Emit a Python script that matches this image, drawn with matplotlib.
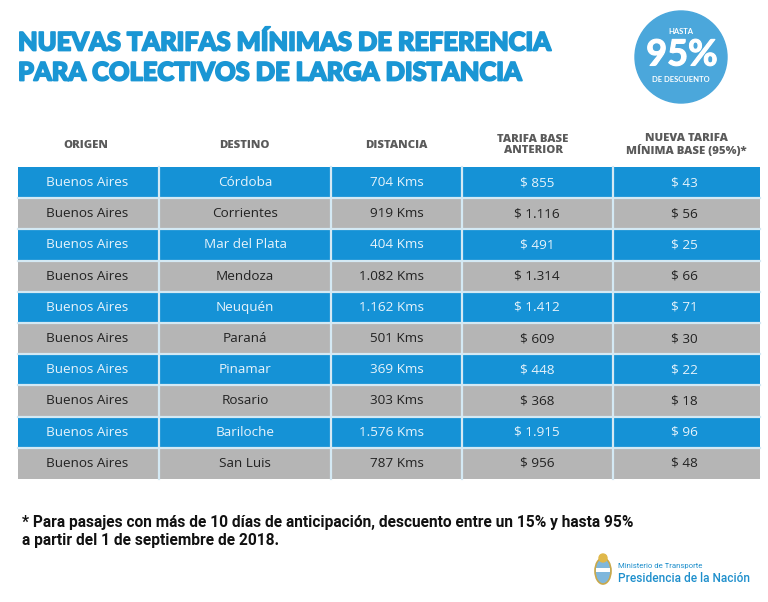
import matplotlib
matplotlib.use("Agg")
import matplotlib.pyplot as plt
import matplotlib.patheffects as pe
from matplotlib.patches import Rectangle, Circle, Ellipse

# ---- data ----
origen = ["Buenos Aires"] * 10
destino = ["Córdoba", "Corrientes", "Mar del Plata", "Mendoza", "Neuquén",
           "Paraná", "Pinamar", "Rosario", "Bariloche", "San Luis"]
distancia_km = [704, 919, 404, 1082, 1162, 501, 369, 303, 1576, 787]
tarifa_anterior = [855, 1116, 491, 1314, 1412, 609, 448, 368, 1915, 956]
tarifa_nueva = [43, 56, 25, 66, 71, 30, 22, 18, 96, 48]
headers = ["ORIGEN", "DESTINO", "DISTANCIA", "TARIFA BASE\nANTERIOR",
           "NUEVA TARIFA\nMÍNIMA BASE (95%)*"]
title_lines = ["NUEVAS TARIFAS MÍNIMAS DE REFERENCIA",
               "PARA COLECTIVOS DE LARGA DISTANCIA"]
footnote = ["* Para pasajes con más de 10 días de anticipación, descuento entre un 15% y hasta 95%",
            "a partir del 1 de septiembre de 2018."]


def miles(v):
    return f"{v:,}".replace(",", ".")


BLUE = "#1592d6"
GRAY = "#b5b5b5"
SEP = "#d4e9f4"
TITLE_C = "#1a96d4"

fig = plt.figure(figsize=(7.68, 6.02), dpi=100)
ax = fig.add_axes([0, 0, 1, 1])
ax.set_xlim(0, 768)
ax.set_ylim(602, 0)
ax.axis("off")

# title
for i, line in enumerate(title_lines):
    ax.text(18, 43 + i * 30, line, fontsize=18.3, fontweight="black",
            family="Lato", color=TITLE_C, va="center", ha="left",
            path_effects=[pe.withStroke(linewidth=1.3, foreground=TITLE_C)])

# badge
ax.add_patch(Circle((681, 57), 46, color="#4ba7db", zorder=1))
ax.text(681, 31, "HASTA", fontsize=5.5, fontweight="bold", family="Lato",
        color="white", ha="center", va="center")
ax.text(682, 55, "95%", fontsize=26, fontweight="bold", family="Lato",
        color="white", ha="center", va="center",
        path_effects=[pe.withStroke(linewidth=0.8, foreground="white")])
ax.text(681, 80, "DE DESCUENTO", fontsize=5.5, fontweight="bold", family="Lato",
        color="white", ha="center", va="center")

# table geometry
col_edges = [18, 159, 331, 462, 613, 760]
top = 167
rh = 31.2
header_x = [86, 244, 396, 533, 686]

for j, h in enumerate(headers):
    ax.text(header_x[j], 145, h, fontsize=8.2, fontweight="heavy", family="Open Sans",
            color="#5a5a5a", ha="center", va="center", linespacing=1.1)

for i in range(len(destino)):
    y0 = top + i * rh
    fill = BLUE if i % 2 == 0 else GRAY
    tc = "#e6f3fb" if i % 2 == 0 else "#222222"
    ax.add_patch(Rectangle((col_edges[0], y0), col_edges[-1] - col_edges[0], rh,
                           facecolor=fill, edgecolor="none", zorder=1))
    yc = y0 + rh / 2
    kw = dict(fontsize=9.7, family="Open Sans", color=tc, va="center", zorder=3)
    ax.text(87, yc, origen[i], ha="center", **kw)
    ax.text(245, yc, destino[i], ha="center", **kw)
    ax.text(424, yc, f"{miles(distancia_km[i])} Kms", ha="right", **kw)
    ax.text(537, yc, f"$ {miles(tarifa_anterior[i])}", ha="center", **kw)
    ax.text(684, yc, f"$ {tarifa_nueva[i]}", ha="center", **kw)

# separators
bottom = top + len(destino) * rh
for x in col_edges[1:-1]:
    ax.plot([x, x], [top, bottom], color=SEP, lw=1.6, zorder=2)
for i in range(1, len(destino)):
    y = top + i * rh
    ax.plot([col_edges[0], col_edges[-1]], [y, y], color=SEP, lw=1.6, zorder=2)

# footnote
for i, line in enumerate(footnote):
    ax.text(22, 523 + i * 18, line, fontsize=11.2, fontweight="bold", family="Roboto",
            color="#111111", ha="left", va="center")

# logo
ax.add_patch(Ellipse((603, 571), 16, 26, facecolor="#7fb7dc", edgecolor="#c9a84a", lw=1.2))
ax.add_patch(Rectangle((596, 568), 14, 4, facecolor="white", edgecolor="none"))
ax.add_patch(Circle((603, 558), 4, color="#e0b84a"))
ax.text(618, 566, "Ministerio de Transporte", fontsize=5.6, family="Roboto",
        color="#1e8fcc", ha="left", va="center")
ax.text(618, 578, "Presidencia de la Nación", fontsize=8.6, family="Roboto",
        fontweight="medium", color="#1e8fcc", ha="left", va="center")

fig.savefig("out.png", dpi=100, facecolor="white")
